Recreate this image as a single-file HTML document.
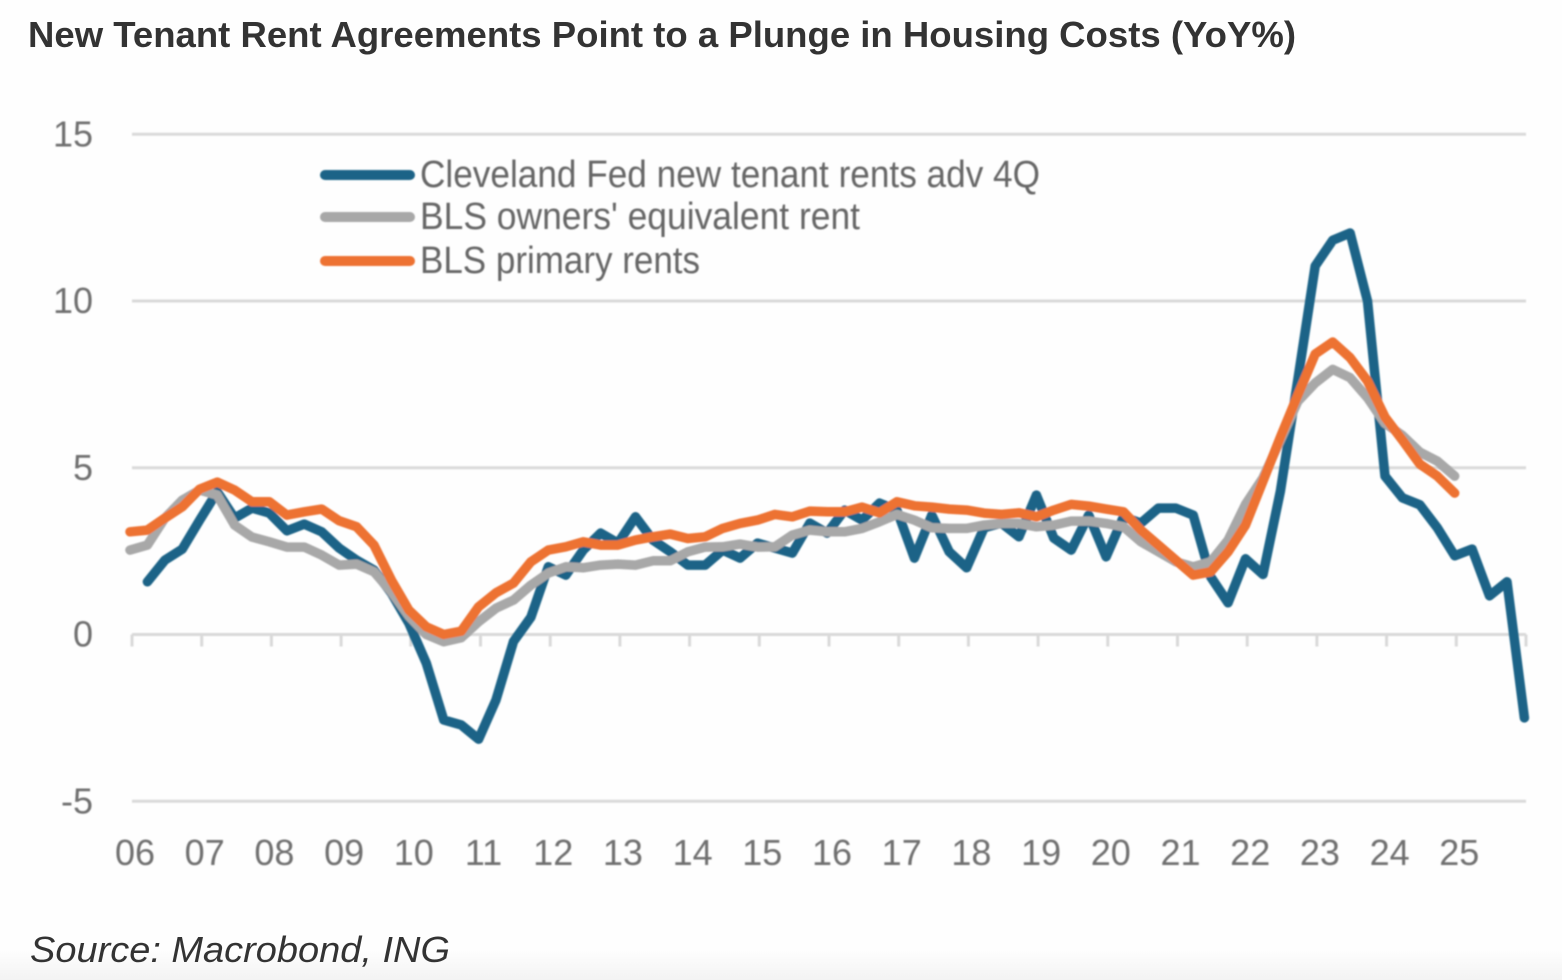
<!DOCTYPE html>
<html lang="en">
<head>
<meta charset="utf-8">
<title>New Tenant Rent Agreements Point to a Plunge in Housing Costs (YoY%)</title>
<style>
  html, body { margin: 0; padding: 0; background: #fefefe; }
  body { width: 1562px; height: 980px; overflow: hidden; }
  svg { display: block; font-family: "Liberation Sans", sans-serif; }
  .tick { font-size: 36px; fill: #707070; }
  .legend-text { font-size: 38px; fill: #666666; }
</style>
</head>
<body>
<svg id="chart" width="1562" height="980" viewBox="0 0 1562 980" xmlns="http://www.w3.org/2000/svg">
  <defs>
    <linearGradient id="bottom-fade" x1="0" y1="0" x2="0" y2="1">
      <stop offset="0" stop-color="#fefefe"/>
      <stop offset="1" stop-color="#f3f3f3"/>
    </linearGradient>
    <filter id="soft" x="-5%" y="-5%" width="110%" height="110%">
      <feGaussianBlur stdDeviation="0.7"/>
    </filter>
  </defs>
  <rect x="0" y="0" width="1562" height="980" fill="#fefefe"/>
  <rect x="0" y="950" width="1562" height="30" fill="url(#bottom-fade)"/>

  <text x="28" y="47" font-size="36" font-weight="700" fill="#333333" textLength="1268" lengthAdjust="spacingAndGlyphs">New Tenant Rent Agreements Point to a Plunge in Housing Costs (YoY%)</text>

  <g id="grid" filter="url(#soft)"></g>
  <g id="y-labels" filter="url(#soft)"></g>
  <g id="x-labels" filter="url(#soft)"></g>
  <g id="series" filter="url(#soft)"></g>

  <g filter="url(#soft)">
    <g>
      <line x1="325" y1="175" x2="410" y2="175" stroke="#1b6487" stroke-width="10" stroke-linecap="round"/>
      <text class="legend-text" x="420" y="187" textLength="620" lengthAdjust="spacingAndGlyphs">Cleveland Fed new tenant rents adv 4Q</text>
    </g>
    <g>
      <line x1="325" y1="217" x2="410" y2="217" stroke="#a8a8a8" stroke-width="10" stroke-linecap="round"/>
      <text class="legend-text" x="420" y="229" textLength="440" lengthAdjust="spacingAndGlyphs">BLS owners' equivalent rent</text>
    </g>
    <g>
      <line x1="325" y1="261" x2="410" y2="261" stroke="#ed7233" stroke-width="10" stroke-linecap="round"/>
      <text class="legend-text" x="420" y="273" textLength="280" lengthAdjust="spacingAndGlyphs">BLS primary rents</text>
    </g>
  </g>

  <text x="30" y="962" font-size="36" font-style="italic" fill="#333333" textLength="420" lengthAdjust="spacingAndGlyphs">Source: Macrobond, ING</text>
</svg>

<script>
// Chart data: quarterly YoY % values, first entry is Q1 2006 unless a start offset is given
const yTickValues = [15, 10, 5, 0, -5];
const yearLabels = ['06','07','08','09','10','11','12','13','14','15','16','17','18','19','20','21','22','23','24','25'];
const clevelandStartQuarter = 1;
const clevelandFed = [
  1.58, 2.23, 2.56, 3.43, 4.28, 3.49, 3.79, 3.64, 3.11, 3.31,
  3.08, 2.59, 2.23, 1.93, 1.24, 0.34, -0.86, -2.56, -2.71, -3.14,
  -1.96, -0.21, 0.52, 2.03, 1.78, 2.53, 3.04, 2.74, 3.53, 2.83,
  2.48, 2.08, 2.08, 2.53, 2.29, 2.74, 2.59, 2.44, 3.34, 3.04,
  3.73, 3.43, 3.94, 3.73, 2.29, 3.58, 2.48, 2.0, 3.2, 3.34,
  2.93, 4.18, 2.89, 2.53, 3.58, 2.33, 3.53, 3.34, 3.79, 3.79,
  3.58, 1.73, 0.95, 2.27, 1.8, 4.3, 7.63, 11.05, 11.82, 12.04,
  10.0, 4.75, 4.1, 3.89, 3.2, 2.36, 2.56, 1.16, 1.58, -2.5
];
const ownersEquivalentRent = [
  2.53, 2.68, 3.49, 4.03, 4.33, 4.18, 3.28, 2.92, 2.78, 2.62,
  2.62, 2.38, 2.08, 2.11, 1.88, 1.28, 0.55, 0.0, -0.22, -0.1,
  0.38, 0.79, 1.03, 1.48, 1.84, 2.03, 2.0, 2.08, 2.11, 2.08,
  2.21, 2.21, 2.48, 2.62, 2.63, 2.71, 2.62, 2.63, 2.98, 3.13,
  3.08, 3.08, 3.18, 3.38, 3.6, 3.43, 3.2, 3.18, 3.18, 3.28,
  3.33, 3.33, 3.23, 3.28, 3.4, 3.4, 3.33, 3.23, 2.78, 2.48,
  2.18, 2.03, 2.18, 2.83, 3.9, 4.7, 5.83, 6.99, 7.54, 7.95,
  7.7, 7.1, 6.33, 5.97, 5.47, 5.2, 4.75
];
const primaryRents = [
  3.08, 3.13, 3.49, 3.83, 4.36, 4.57, 4.33, 3.98, 3.98, 3.58,
  3.68, 3.76, 3.41, 3.23, 2.68, 1.63, 0.73, 0.23, 0.0, 0.1,
  0.83, 1.25, 1.54, 2.18, 2.53, 2.63, 2.78, 2.68, 2.68, 2.83,
  2.93, 3.01, 2.88, 2.93, 3.18, 3.33, 3.43, 3.6, 3.53, 3.7,
  3.68, 3.68, 3.82, 3.65, 3.98, 3.86, 3.82, 3.76, 3.73, 3.64,
  3.6, 3.65, 3.53, 3.73, 3.9, 3.85, 3.76, 3.68, 3.13, 2.68,
  2.23, 1.78, 1.88, 2.48, 3.28, 4.6, 5.92, 7.18, 8.41, 8.77,
  8.3, 7.6, 6.52, 5.83, 5.11, 4.75, 4.24
];

const SVG_NS = 'http://www.w3.org/2000/svg';
function yScale(v) { return 634.5 - 33.35 * v; }
function xScale(q) { return 130 + 17.43 * q; }
function yearTickX(k) { return 132 + 69.7 * k; }

const grid = document.getElementById('grid');
const yLabelGroup = document.getElementById('y-labels');
const xLabelGroup = document.getElementById('x-labels');
const seriesGroup = document.getElementById('series');

yTickValues.forEach(function (v) {
  const line = document.createElementNS(SVG_NS, 'line');
  
  
  line.setAttribute('x1', 132);
  line.setAttribute('x2', 1526);
  line.setAttribute('y1', yScale(v));
  line.setAttribute('y2', yScale(v));
  line.setAttribute('stroke', '#d9d9d9');
  line.setAttribute('stroke-width', 3);
  grid.appendChild(line);

  const label = document.createElementNS(SVG_NS, 'text');
  
  
  label.setAttribute('class', 'tick');
  label.setAttribute('x', 93);
  label.setAttribute('y', yScale(v) + 12);
  label.setAttribute('text-anchor', 'end');
  label.textContent = String(v);
  yLabelGroup.appendChild(label);
});

for (let k = 0; k <= yearLabels.length; k++) {
  const tick = document.createElementNS(SVG_NS, 'line');
  
  
  tick.setAttribute('x1', yearTickX(k));
  tick.setAttribute('x2', yearTickX(k));
  tick.setAttribute('y1', yScale(0));
  tick.setAttribute('y2', yScale(0) + 12);
  tick.setAttribute('stroke', '#d9d9d9');
  tick.setAttribute('stroke-width', 3);
  grid.appendChild(tick);
}

yearLabels.forEach(function (text, k) {
  const label = document.createElementNS(SVG_NS, 'text');
  
  
  label.setAttribute('class', 'tick');
  label.setAttribute('x', yearTickX(k) + 3);
  label.setAttribute('y', 865);
  label.setAttribute('text-anchor', 'middle');
  label.textContent = text;
  xLabelGroup.appendChild(label);
});

function drawSeries(values, startQuarter, color, name) {
  const d = values.map(function (v, i) {
    return (i === 0 ? 'M' : 'L') + xScale(startQuarter + i).toFixed(1) + ' ' + yScale(v).toFixed(1);
  }).join(' ');
  const path = document.createElementNS(SVG_NS, 'path');
  
  
  path.setAttribute('d', d);
  path.setAttribute('fill', 'none');
  path.setAttribute('stroke', color);
  path.setAttribute('stroke-width', 9.5);
  path.setAttribute('stroke-linejoin', 'round');
  path.setAttribute('stroke-linecap', 'round');
  seriesGroup.appendChild(path);
}

drawSeries(clevelandFed, clevelandStartQuarter, '#1b6487', 'line-cleveland-fed');
drawSeries(ownersEquivalentRent, 0, '#a8a8a8', 'line-owners-equivalent-rent');
drawSeries(primaryRents, 0, '#ed7233', 'line-primary-rents');
</script>
</body>
</html>
